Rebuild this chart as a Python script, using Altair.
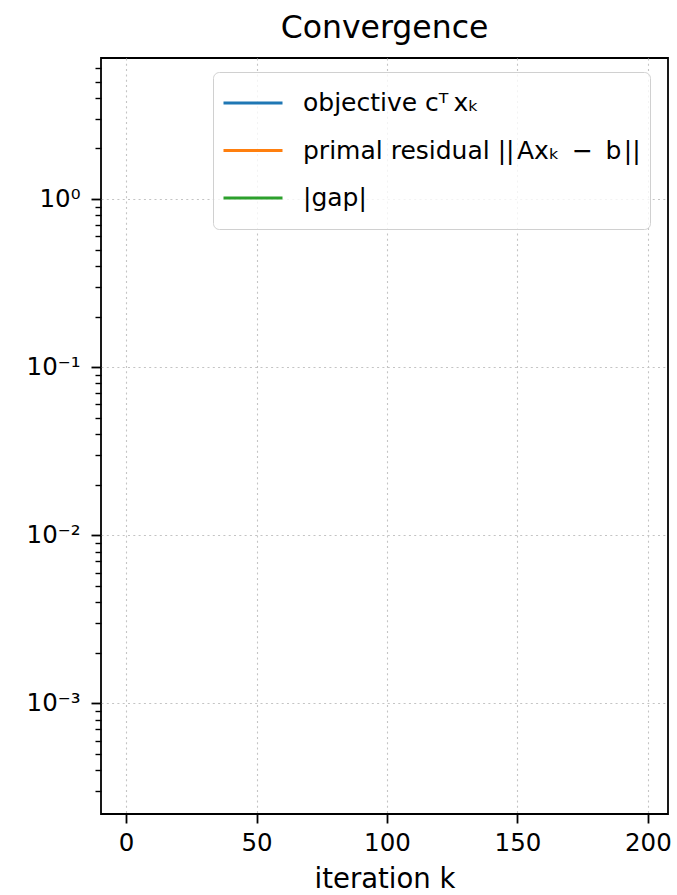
import altair as alt
import pandas as pd

# ---- data (the reference plot shows no visible line data) ----
series_names = ["objective cᵀ\u2009xₖ", "primal residual ||\u200aAxₖ\u2002−\u2002b\u200a||", "|gap|"]
series_colors = ["#1f77b4", "#ff7f0e", "#2ca02c"]
iterations = []
objective = []
primal_residual = []
gap = []

x_ticks = [0, 50, 100, 150, 200]
x_domain = [-9.6, 207.7]
y_domain = [2.2e-4, 6.9]
y_major = [0.001, 0.01, 0.1, 1]
y_major_labels = ["10⁻³", "10⁻²", "10⁻¹", "10⁰"]
y_minor = [0.0003, 0.0004, 0.0005, 0.0006, 0.0007, 0.0008, 0.0009,
           0.002, 0.003, 0.004, 0.005, 0.006, 0.007, 0.008, 0.009,
           0.02, 0.03, 0.04, 0.05, 0.06, 0.07, 0.08, 0.09,
           0.2, 0.3, 0.4, 0.5, 0.6, 0.7, 0.8, 0.9,
           2, 3, 4, 5, 6]

rows = []
for name, vals in zip(series_names, [objective, primal_residual, gap]):
    for k, v in zip(iterations, vals):
        rows.append({"k": k, "value": v, "series": name})
df = pd.DataFrame(rows, columns=["k", "value", "series"])

FONT = "DejaVu Sans"
major_test = "indexof([" + ",".join(repr(v) for v in y_major) + "], datum.value) >= 0"
label_expr = " : ".join(
    f"datum.value == {repr(v)} ? '{lab}'" for v, lab in zip(y_major, y_major_labels)
) + " : ''"

y_axis = alt.Axis(
    values=y_major + y_minor,
    labelExpr=label_expr,
    labelOverlap=False,
    labelFlush=False,
    labelFontSize=24.5,
    labelPadding=11,
    tickSize={"condition": {"test": major_test, "value": 10}, "value": 6},
    tickWidth={"condition": {"test": major_test, "value": 1.8}, "value": 1.4},
    gridOpacity={"condition": {"test": major_test, "value": 1}, "value": 0},
    grid=True,
    title=None,
)

x_axis = alt.Axis(
    values=x_ticks,
    labelFlush=False,
    labelOverlap=False,
    labelFontSize=24.5,
    labelPadding=8,
    tickSize=9,
    tickWidth=1.8,
    grid=True,
    title="iteration k",
    titleFontSize=27.5,
    titleFontWeight="normal",
    titlePadding=11,
)

chart = (
    alt.Chart(df)
    .mark_line(strokeWidth=2)
    .encode(
        x=alt.X("k:Q", scale=alt.Scale(domain=x_domain, nice=False, zero=False), axis=x_axis),
        y=alt.Y("value:Q", scale=alt.Scale(type="log", domain=y_domain, nice=False), axis=y_axis),
        color=alt.Color(
            "series:N",
            scale=alt.Scale(domain=series_names, range=series_colors),
            legend=alt.Legend(
                title=None,
                orient="none",
                legendX=112,
                legendY=14,
                symbolType="stroke",
                symbolSize=3481,
                symbolStrokeWidth=3,
                clipHeight=44,
                rowPadding=3.5,
                padding=9,
                labelOffset=19,
                labelFontSize=25,
                labelFont=FONT,
                labelColor="#000000",
                labelLimit=600,
                strokeColor="#d0d0d0",
                cornerRadius=6,
                fillColor="rgba(255,255,255,0.8)",
            ),
        ),
    )
    .properties(
        width=567,
        height=756,
        autosize=alt.AutoSizeParams(type="none"),
        padding={"left": 101, "top": 58, "right": 9, "bottom": 81},
        title=alt.TitleParams(
            "Convergence",
            fontSize=31.5,
            font=FONT,
            fontWeight="normal",
            anchor="middle",
            frame="group",
            baseline="alphabetic",
            offset=-14,
            color="#000000",
        ),
    )
    .configure(background="white")
    .configure_view(stroke="#000000", strokeWidth=1.8)
    .configure_axis(
        domain=False,
        labelFont=FONT,
        titleFont=FONT,
        labelColor="#000000",
        titleColor="#000000",
        tickColor="#000000",
        gridColor="#c4c4c4",
        gridDash=[2, 3.3],
        gridWidth=1.1,
    )
)

chart.save("out.html", embed_options={"renderer": "svg", "actions": False})
